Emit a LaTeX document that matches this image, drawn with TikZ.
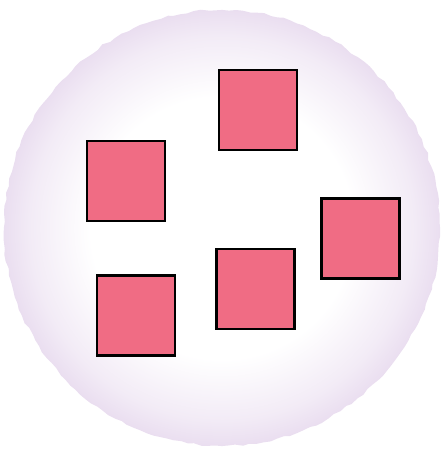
\documentclass[tikz,border=0pt]{standalone}
\usetikzlibrary{decorations.pathmorphing}
\definecolor{SquareClr}{RGB}{240,108,132}
\definecolor{RimClr}{RGB}{234,222,240}
\pgfdeclareradialshading{rimshade}{\pgfpoint{0bp}{0bp}}{color(0bp)=(white); color(15bp)=(white); color(22bp)=(RimClr!60!white); color(25bp)=(RimClr); color(50bp)=(RimClr)}

\begin{document}
\begin{tikzpicture}[x=1pt,y=-1pt]
\tikzset{patch/.style={draw=black,fill=SquareClr,line width=2.3pt,inner sep=0pt,minimum width=78pt,minimum height=80pt}}

\useasboundingbox (0,0) rectangle (443,456);

% the round dish
\shade[shading=rimshade,decorate,decoration={random steps,segment length=7pt,amplitude=1.2pt}] (222,228) circle (218);

% the five squares
\node[patch] (top) at (258,110) {};
\node[patch] (left) at (126,181) {};
\node[patch] (right) at (360.5,238.5) {};
\node[patch] (middle) at (255.5,289) {};
\node[patch] (lowleft) at (136,315.5) {};

\end{tikzpicture}
\end{document}
